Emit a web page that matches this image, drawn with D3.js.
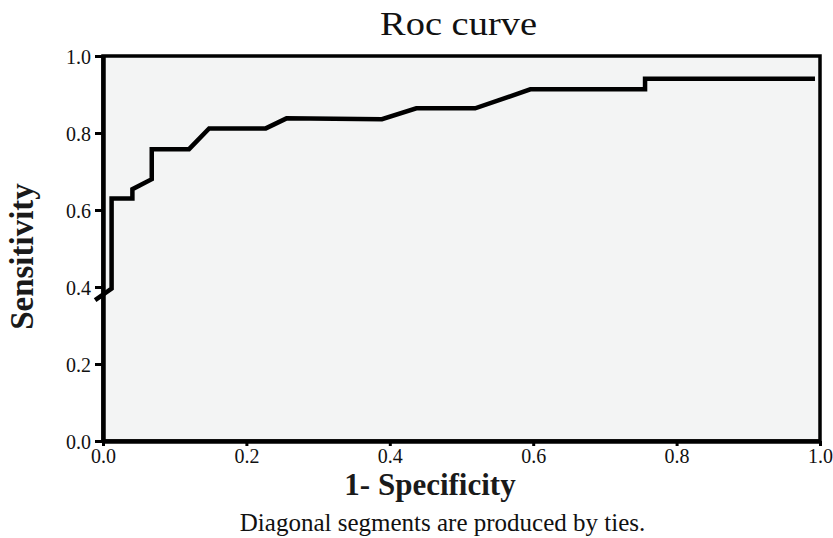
<!DOCTYPE html>
<html>
<head>
<meta charset="utf-8">
<script src="https://cdn.jsdelivr.net/npm/d3@7"></script>
<style>
  html, body { margin: 0; padding: 0; background: #ffffff; }
  svg { display: block; }
</style>
</head>
<body>
<svg id="chart" width="833" height="538"></svg>
<script>
// ---- data ----
const fpr = [-0.011, 0.012, 0.012, 0.041, 0.041, 0.068, 0.068, 0.120, 0.148, 0.227, 0.256, 0.389, 0.437, 0.519, 0.596, 0.756, 0.756, 0.993];
const tpr = [0.366, 0.396, 0.630, 0.630, 0.654, 0.680, 0.758, 0.758, 0.812, 0.812, 0.838, 0.836, 0.864, 0.864, 0.9135, 0.9135, 0.941, 0.941];
const xTicks = [0.0, 0.2, 0.4, 0.6, 0.8, 1.0];
const yTicks = [0.0, 0.2, 0.4, 0.6, 0.8, 1.0];
const titleText = "Roc curve";
const xLabel = "1- Specificity";
const yLabel = "Sensitivity";
const noteText = "Diagonal segments are produced by ties.";

const svg = d3.select("#chart");
const serif = "'Liberation Serif', 'Times New Roman', serif";

const x = d3.scaleLinear().domain([0, 1]).range([103, 820]);
const y = d3.scaleLinear().domain([0, 1]).range([441, 56]);

// plot background + top/right frame
svg.append("rect")
  .attr("x", x(0)).attr("y", y(1))
  .attr("width", x(1) - x(0)).attr("height", y(0) - y(1))
  .attr("fill", "#f3f4f4")
  .attr("stroke", "#000").attr("stroke-width", 3.5);

// axes
const fmt = d3.format(".1f");
const gx = svg.append("g")
  .attr("transform", `translate(0,${y(0)})`)
  .call(d3.axisBottom(x).tickValues(xTicks).tickFormat(fmt).tickSize(5).tickSizeOuter(0).tickPadding(3));
const gy = svg.append("g")
  .attr("transform", `translate(${x(0)},0)`)
  .call(d3.axisLeft(y).tickValues(yTicks).tickFormat(fmt).tickSize(8).tickSizeOuter(0).tickPadding(4));

[gx, gy].forEach(g => {
  g.select(".domain").attr("stroke", "#000").attr("stroke-width", 4.5);
  g.selectAll(".tick line").attr("stroke", "#000").attr("stroke-width", 3);
  g.selectAll(".tick text")
    .attr("fill", "#111")
    .style("font-family", serif)
    .style("font-size", "20px");
});
gy.selectAll(".tick text").attr("dy", "0.36em");

// curve
const pts = fpr.map((d, i) => [d, tpr[i]]);
svg.append("path")
  .datum(pts)
  .attr("fill", "none")
  .attr("stroke", "#000")
  .attr("stroke-width", 4.5)
  .attr("stroke-linejoin", "miter")
  .attr("d", d3.line().x(d => x(d[0])).y(d => y(d[1])));

// title
svg.append("text")
  .attr("x", 458.5).attr("y", 35)
  .attr("text-anchor", "middle")
  .attr("fill", "#111")
  .style("font-family", serif)
  .style("font-size", "34px")
  .attr("textLength", 157)
  .attr("lengthAdjust", "spacingAndGlyphs")
  .text(titleText);

// x label
svg.append("text")
  .attr("x", 430).attr("y", 495)
  .attr("text-anchor", "middle")
  .attr("fill", "#1a1a1a")
  .style("font-family", serif)
  .style("font-weight", "bold")
  .style("font-size", "31px")
  .text(xLabel);

// y label
svg.append("text")
  .attr("transform", "translate(33,256.5) rotate(-90)")
  .attr("text-anchor", "middle")
  .attr("fill", "#1a1a1a")
  .style("font-family", serif)
  .style("font-weight", "bold")
  .style("font-size", "33px")
  .text(yLabel);

// footnote
svg.append("text")
  .attr("x", 442.5).attr("y", 531)
  .attr("text-anchor", "middle")
  .attr("fill", "#111")
  .style("font-family", serif)
  .style("font-size", "25px")
  .text(noteText);
</script>
</body>
</html>
